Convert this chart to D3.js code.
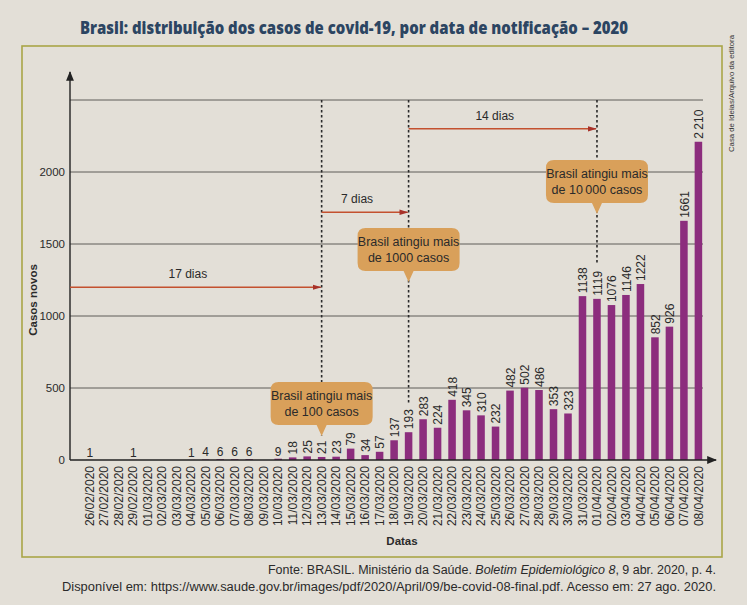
<!DOCTYPE html>
<html>
<head>
<meta charset="utf-8">
<script src="https://cdn.jsdelivr.net/npm/d3@7"></script>
<style>
  html, body { margin: 0; padding: 0; background: #e3dfd7; }
  svg { display: block; }
  text { font-family: "Liberation Sans", Arial, sans-serif; fill: #2a2a2a; }
</style>
</head>
<body>
<svg id="chart" width="747" height="605"></svg>
<script>
// ---------------- data ----------------
const dates = [
  "26/02/2020","27/02/2020","28/02/2020","29/02/2020","01/03/2020","02/03/2020","03/03/2020",
  "04/03/2020","05/03/2020","06/03/2020","07/03/2020","08/03/2020","09/03/2020","10/03/2020",
  "11/03/2020","12/03/2020","13/03/2020","14/03/2020","15/03/2020","16/03/2020","17/03/2020",
  "18/03/2020","19/03/2020","20/03/2020","21/03/2020","22/03/2020","23/03/2020","24/03/2020",
  "25/03/2020","26/03/2020","27/03/2020","28/03/2020","29/03/2020","30/03/2020","31/03/2020",
  "01/04/2020","02/04/2020","03/04/2020","04/04/2020","05/04/2020","06/04/2020","07/04/2020",
  "08/04/2020"
];
const casosNovos = [
  1, 0, 0, 1, 0, 0, 0,
  1, 4, 6, 6, 6, 0, 9,
  18, 25, 21, 23, 79, 34, 57,
  137, 193, 283, 224, 418, 345, 310,
  232, 482, 502, 486, 353, 323, 1138,
  1119, 1076, 1146, 1222, 852, 926, 1661,
  2210
];
const yTickLabels = [0, 500, 1000, 1500, 2000];
const gridValues = [500, 1000, 1500, 2000, 2500];

const marcos = [
  { date: "13/03/2020", lines: ["Brasil atingiu mais", "de 100 casos"] },
  { date: "19/03/2020", lines: ["Brasil atingiu mais", "de 1000 casos"] },
  { date: "01/04/2020", lines: ["Brasil atingiu mais", "de 10\u2009000 casos"] }
];
const intervalos = [
  { from: null, to: "13/03/2020", label: "17 dias", level: 1200 },
  { from: "13/03/2020", to: "19/03/2020", label: "7 dias", level: 1720 },
  { from: "19/03/2020", to: "01/04/2020", label: "14 dias", level: 2300 }
];

const titulo = "Brasil: distribuição dos casos de covid-19, por data de notificação – 2020";

// ---------------- layout ----------------
const svg = d3.select("#chart");
const axisX = 70, axisY0 = 460, yTop = 100;
const bg = "#e3dfd7";
const barColor = "#8c2d7d";
const calloutColor = "#d9a05a";
const arrowColor = "#c4512f";

svg.append("rect").attr("width", 747).attr("height", 605).attr("fill", bg);

// frame
svg.append("rect")
  .attr("x", 22).attr("y", 46).attr("width", 700).attr("height", 511)
  .attr("fill", "none").attr("stroke", "#a9a548").attr("stroke-width", 1.6);

// title
svg.append("text")
  .attr("x", 80).attr("y", 34)
  .attr("textLength", 548).attr("lengthAdjust", "spacingAndGlyphs")
  .style("font-family", "'Open Sans', sans-serif")
  .style("font-weight", 800).style("font-size", "17px")
  .style("fill", "#2c4562")
  .text(titulo);

// credit
svg.append("text")
  .attr("transform", "translate(734,152) rotate(-90)")
  .style("font-size", "7px").style("fill", "#333")
  .attr("textLength", 117).attr("lengthAdjust", "spacingAndGlyphs")
  .text("Casa de Ideias/Arquivo da editora");

// scales
const x = d3.scaleBand().domain(dates).range([79.5, 708.7]).paddingInner(0.48).paddingOuter(0.45);
const y = d3.scaleLinear().domain([0, 2500]).range([axisY0, yTop]);
const cx = d => x(d) + x.bandwidth() / 2;

// gridlines
svg.append("g").selectAll("line").data(gridValues).join("line")
  .attr("x1", axisX).attr("x2", 703)
  .attr("y1", d => y(d)).attr("y2", d => y(d))
  .attr("stroke", "#5e5d59").attr("stroke-width", 1);

// y axis via d3.axisLeft
const yAxis = d3.axisLeft(y).tickValues(yTickLabels).tickFormat(d3.format("d")).tickSize(0).tickPadding(5);
const gy = svg.append("g").attr("transform", `translate(${axisX},0)`).call(yAxis);
gy.select(".domain").remove();
gy.selectAll("text")
  .style("font-family", "'Liberation Sans Narrow', 'Liberation Sans', sans-serif")
  .style("font-size", "11.5px").style("fill", "#2a2a2a");

// axis lines with arrows
const defs = svg.append("defs");
defs.append("marker").attr("id", "axArrow")
  .attr("viewBox", "0 0 10 10").attr("refX", 9).attr("refY", 5)
  .attr("markerWidth", 7).attr("markerHeight", 7).attr("orient", "auto")
  .append("path").attr("d", "M0,1 L10,5 L0,9 Z").attr("fill", "#222");
defs.append("marker").attr("id", "redArrow")
  .attr("viewBox", "0 0 10 10").attr("refX", 9).attr("refY", 5)
  .attr("markerWidth", 6).attr("markerHeight", 6).attr("orient", "auto")
  .append("path").attr("d", "M0,2 L10,5 L0,8 Z").attr("fill", "#a8322a");

svg.append("line").attr("x1", axisX).attr("x2", axisX)
  .attr("y1", axisY0).attr("y2", 72)
  .attr("stroke", "#222").attr("stroke-width", 1.4).attr("marker-end", "url(#axArrow)");

// dashed milestone lines (drawn before bars/callouts)
const labelLen = v => String(v).length * 6.7;
marcos.forEach(m => {
  const i = dates.indexOf(m.date);
  const v = casosNovos[i];
  svg.append("line")
    .attr("x1", cx(m.date)).attr("x2", cx(m.date))
    .attr("y1", y(2500)).attr("y2", y(v) - 4 - labelLen(v) - 4)
    .attr("stroke", "#2a2a2a").attr("stroke-width", 1.6)
    .attr("stroke-dasharray", "2.5,2.5");
});

// bars
svg.append("g").selectAll("rect").data(dates).join("rect")
  .attr("x", d => x(d))
  .attr("width", x.bandwidth())
  .attr("y", (d, i) => y(casosNovos[i]))
  .attr("height", (d, i) => axisY0 - y(casosNovos[i]))
  .attr("fill", barColor);

svg.append("line").attr("x1", axisX).attr("x2", 716)
  .attr("y1", axisY0).attr("y2", axisY0)
  .attr("stroke", "#222").attr("stroke-width", 1.4).attr("marker-end", "url(#axArrow)");

// value labels
const fmt = v => v >= 2000 ? d3.format(",")(v).replace(",", "\u2009") : String(v);
const lbl = svg.append("g");
dates.forEach((d, i) => {
  const v = casosNovos[i];
  if (v <= 0) return;
  if (v < 10) {
    lbl.append("text").attr("x", cx(d)).attr("y", y(v) - 3)
      .attr("text-anchor", "middle").style("font-size", "12px").text(fmt(v));
  } else {
    lbl.append("text")
      .attr("transform", `translate(${cx(d) + 0.5},${y(v) - 3}) rotate(-90)`)
      .attr("dy", "0.35em").style("font-size", "12px").text(fmt(v));
  }
});

// x tick labels (dates) via axisBottom
const xAxis = d3.axisBottom(x).tickSize(0).tickPadding(0);
const gx = svg.append("g").attr("transform", `translate(0,${axisY0})`).call(xAxis);
gx.select(".domain").remove();
gx.selectAll("text")
  .attr("transform", "translate(0,6) rotate(-90)")
  .attr("x", 0).attr("y", 0).attr("dy", "0.35em")
  .attr("text-anchor", "end")
  .style("font-family", "'Liberation Sans', sans-serif")
  .style("font-size", "12px").style("fill", "#2a2a2a");

// axis titles
svg.append("text").attr("transform", "translate(37,300) rotate(-90)")
  .attr("text-anchor", "middle").style("font-weight", "bold").style("font-size", "11.5px")
  .text("Casos novos");
svg.append("text").attr("x", 402).attr("y", 545)
  .attr("text-anchor", "middle").style("font-weight", "bold").style("font-size", "11.5px")
  .text("Datas");

// interval arrows
intervalos.forEach(it => {
  const x1 = it.from ? cx(it.from) : axisX;
  const x2 = cx(it.to);
  const yy = y(it.level);
  svg.append("line").attr("x1", x1).attr("x2", x2 - 1).attr("y1", yy).attr("y2", yy)
    .attr("stroke", arrowColor).attr("stroke-width", 1.5).attr("marker-end", "url(#redArrow)");
  svg.append("text").attr("x", (x1 + x2) / 2 - 8).attr("y", yy - 9)
    .attr("text-anchor", "middle").style("font-size", "12px").text(it.label);
});

// callouts
const boxTop = [382, 228, 160];
marcos.forEach((m, k) => {
  const c = cx(m.date);
  const w = 102, h = 43, t = boxTop[k], l = c - w / 2, r = 8;
  const g = svg.append("g");
  const p = d3.path();
  p.moveTo(l + r, t);
  p.lineTo(l + w - r, t); p.quadraticCurveTo(l + w, t, l + w, t + r);
  p.lineTo(l + w, t + h - r); p.quadraticCurveTo(l + w, t + h, l + w - r, t + h);
  p.lineTo(c + 5, t + h); p.lineTo(c, t + h + 11); p.lineTo(c - 5, t + h);
  p.lineTo(l + r, t + h); p.quadraticCurveTo(l, t + h, l, t + h - r);
  p.lineTo(l, t + r); p.quadraticCurveTo(l, t, l + r, t);
  p.closePath();
  g.append("path").attr("d", p.toString()).attr("fill", calloutColor);
  m.lines.forEach((s, j) => {
    g.append("text").attr("x", c).attr("y", t + 18 + j * 16)
      .attr("text-anchor", "middle").style("font-size", "12.5px").style("fill", "#2a2a2a").text(s);
  });
});

// source
const src = svg.append("g").style("font-size", "12px");
const f1 = src.append("text").attr("x", 716).attr("y", 574).attr("text-anchor", "end")
  .attr("textLength", 448).attr("lengthAdjust", "spacingAndGlyphs");
f1.append("tspan").text("Fonte: BRASIL. Ministério da Saúde. ");
f1.append("tspan").style("font-style", "italic").text("Boletim Epidemiológico 8");
f1.append("tspan").text(", 9 abr. 2020, p. 4.");
src.append("text").attr("x", 716).attr("y", 591).attr("text-anchor", "end")
  .attr("textLength", 654).attr("lengthAdjust", "spacingAndGlyphs")
  .text("Disponível em: https://www.saude.gov.br/images/pdf/2020/April/09/be-covid-08-final.pdf. Acesso em: 27 ago. 2020.");
</script>
</body>
</html>
